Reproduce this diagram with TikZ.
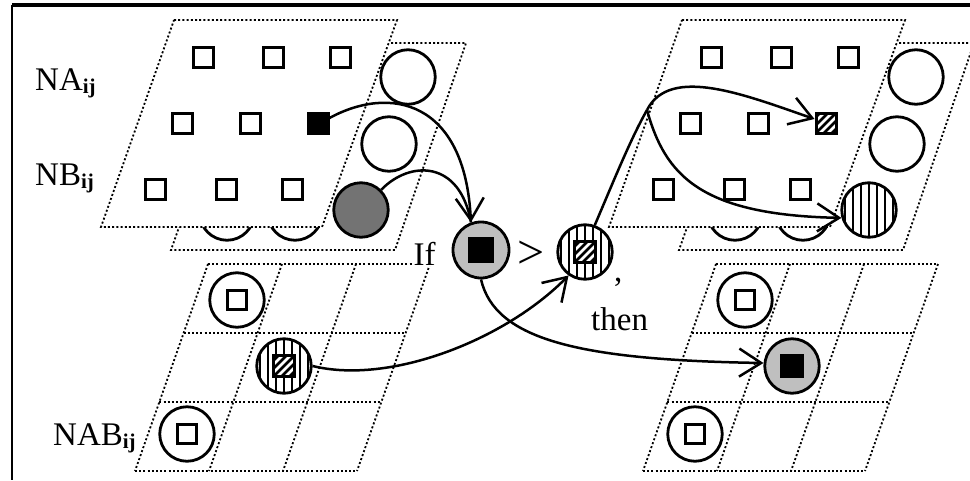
\documentclass[tikz,border=0pt]{standalone}
\usepackage{fontspec}
\setmainfont{Liberation Serif}
\usetikzlibrary{arrows.meta}
\begin{document}
\begin{tikzpicture}[x=1pt,y=-1pt,
  dotline/.style={line width=1.8pt, line cap=butt, dash pattern=on 2pt off 2.2pt},
  panel/.style={dotline, fill=white},
  sq/.style={rectangle, draw, line width=3pt, minimum size=20pt, inner sep=0pt, fill=white},
  cir/.style={circle, draw, line width=2.8pt, minimum size=54.5pt, inner sep=0pt, fill=white},
  vstripes/.style={path picture={\foreach \k in {-4,...,4}
      \draw[line width=2.2pt] ([xshift=\k*8pt]path picture bounding box.north) -- ([xshift=\k*8pt]path picture bounding box.south);}},
  hatch/.style={path picture={\foreach \k in {-3,...,3}
      \draw[line width=2.6pt] ([xshift=\k*8pt-16pt,yshift=-16pt]path picture bounding box.center) -- ++(32pt,32pt);}},
  link/.style={line width=2.5pt},
  arr/.style={link, -{Straight Barb[length=22pt,width=28pt]}},
  lbl/.style={inner sep=0pt, anchor=base west, font=\fontsize{33}{33}\selectfont},
]
\newcommand{\sub}[1]{\raisebox{-3pt}{\fontsize{21}{21}\selectfont\bfseries #1}}
\useasboundingbox (0,0) rectangle (970,480);

% frame
\draw[line width=3.5pt] (12,5) -- (970,5);
\draw[line width=2pt] (12,5) -- (12,480);

% ---------- upper left: two stacked sheets ----------
\draw[panel] (244,43) -- (466,43) -- (395,250) -- (171,250) -- cycle;
\node[cir] (la31) at (227,213) {};
\node[cir] (la32) at (295,213) {};
\draw[panel] (174,20) -- (397,20) -- (322,227) -- (101,227) -- cycle;
\node[cir] (la13) at (408,77) {};
\node[cir] (la23) at (389,144) {};
\node[cir, fill=black!55] (gc) at (361,210) {};
\node[sq] (l11) at (203,57) {};
\node[sq] (l12) at (273,57) {};
\node[sq] (l13) at (340,57) {};
\node[sq] (l21) at (182,123) {};
\node[sq] (l22) at (250,123) {};
\node[sq, fill=black] (bsq) at (318,123) {};
\node[sq] (l31) at (155,189) {};
\node[sq] (l32) at (226,189) {};
\node[sq] (l33) at (292,189) {};

% ---------- upper right: two stacked sheets ----------
\draw[panel] (752,43) -- (974,43) -- (903,250) -- (679,250) -- cycle;
\node[cir] (ra31) at (735,213) {};
\node[cir] (ra32) at (803,213) {};
\draw[panel] (682,20) -- (905,20) -- (830,227) -- (609,227) -- cycle;
\node[cir] (ra13) at (916,77) {};
\node[cir] (ra23) at (897,144) {};
\node[cir, vstripes] (sc) at (869,210) {};
\node[sq] (r11) at (711,57) {};
\node[sq] (r12) at (781,57) {};
\node[sq] (r13) at (848,57) {};
\node[sq] (r21) at (690,123) {};
\node[sq] (r22) at (758,123) {};
\node[sq, hatch] (hsq) at (826,123) {};
\node[sq] (r31) at (663,189) {};
\node[sq] (r32) at (734,189) {};
\node[sq] (r33) at (800,189) {};

% ---------- lower grids ----------
\foreach \dx in {0,508} {
  \foreach \i in {0,...,3}
    \draw[dotline] (208+\dx-24.33*\i, 264+69*\i) -- ++(222,0);
  \foreach \j in {0,...,3}
    \draw[dotline] (208+\dx+74*\j, 264) -- (135+\dx+74*\j, 471);
}
\node[cir] (g1) at (237,300) {};
\node[sq, minimum size=19.5pt] (g1s) at (g1) {};
\node[cir, vstripes] (gs) at (284,366) {};
\node[sq, hatch, minimum size=20.5pt] (gss) at (gs) {};
\node[cir] (g3) at (187,434) {};
\node[sq, minimum size=19.5pt] (g3s) at (g3) {};

\node[cir] (h1) at (745,300) {};
\node[sq, minimum size=19.5pt] (h1s) at (h1) {};
\node[cir, fill=black!25] (gg) at (792,366) {};
\node[sq, fill=black, minimum size=21pt] (ggs) at (gg) {};
\node[cir] (h3) at (695,434) {};
\node[sq, minimum size=19.5pt] (h3s) at (h3) {};

% ---------- comparison in the middle ----------
\node[cir, fill=black!25, minimum size=56pt] (ifc) at (481,250) {};
\node[sq, fill=black, minimum size=22.5pt] (ifs) at (ifc) {};
\node[cir, vstripes] (mc) at (585,252) {};
\node[sq, hatch, minimum size=20.5pt] (mcs) at (mc) {};

% ---------- labels ----------
\node[lbl] (na) at (35,90) {NA\sub{ij}};
\node[lbl] (nb) at (35,185) {NB\sub{ij}};
\node[lbl] (nab) at (53,445) {NAB\sub{ij}};
\node[lbl, fill=white, inner sep=0.5pt] (tif) at (413,265) {If};
\node[inner sep=0pt, font=\fontsize{48}{48}\selectfont] (gt) at (531,255) {>};
\node[lbl] (comma) at (614,281) {,};
\node[lbl] (tthen) at (591,330) {then};

% ---------- connectors ----------
\draw[arr] ([yshift=5pt]bsq.east) .. controls (390,85) and (465,100) .. (ifc.110);
\draw[link] (gc.45) .. controls (410,160) and (460,160) .. (ifc.110);
\coordinate (br) at (647,110);
\draw[link] (mc.70) .. controls (612,185) and (630,140) .. (br);
\draw[arr] (br) .. controls (670,65) and (745,95) .. ([yshift=4pt]hsq.west);
\draw[arr] (br) .. controls (665,175) and (700,215) .. (sc.196);
\draw[arr] (gs.east) .. controls (390,385) and (505,340) .. (mc.235);
\draw[arr] (ifc.south) .. controls (495,340) and (580,360) .. (gg.174);
\end{tikzpicture}
\end{document}
